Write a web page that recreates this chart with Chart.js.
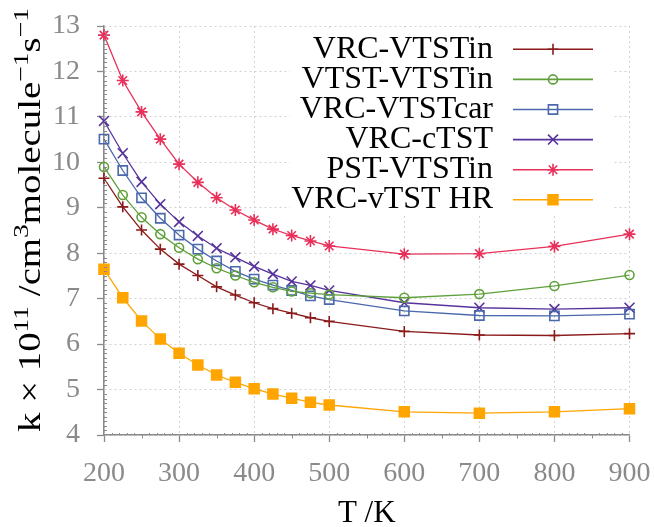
<!DOCTYPE html>
<html lang="en">
<head>
  <meta charset="UTF-8">
  <title>Rate constants vs temperature</title>
  <script src="https://cdn.jsdelivr.net/npm/chart.js"></script>
  <style>
    html, body { margin: 0; padding: 0; background: #fff; }
    canvas { display: block; }
  </style>
</head>
<body>
  <canvas id="rateChart" width="654" height="527"></canvas>

  <script>
    // Temperatures (K) and rate constants (k x 10^11, cm3 molecule-1 s-1)
    const temperatures = [200, 225, 250, 275, 300, 325, 350, 375, 400, 425, 450, 475, 500, 600, 700, 800, 900];
    const vrcVtstin  = [9.65, 9.02, 8.51, 8.09, 7.76, 7.51, 7.26, 7.08, 6.91, 6.78, 6.68, 6.58, 6.50, 6.28, 6.20, 6.19, 6.23];
    const vtstVtstin = [9.90, 9.28, 8.79, 8.42, 8.12, 7.87, 7.67, 7.51, 7.36, 7.25, 7.16, 7.12, 7.09, 7.02, 7.10, 7.28, 7.52];
    const vrcVtstcar = [10.51, 9.82, 9.22, 8.77, 8.40, 8.09, 7.83, 7.60, 7.43, 7.30, 7.18, 7.06, 6.98, 6.73, 6.63, 6.62, 6.66];
    const vrcCtst    = [10.91, 10.20, 9.57, 9.08, 8.69, 8.38, 8.11, 7.91, 7.71, 7.54, 7.38, 7.29, 7.18, 6.91, 6.80, 6.77, 6.80];
    const pstVtstin  = [12.80, 11.80, 11.11, 10.51, 9.96, 9.56, 9.22, 8.95, 8.73, 8.53, 8.39, 8.27, 8.16, 7.98, 7.99, 8.15, 8.42];
    const vrcVtstHr  = [7.65, 7.02, 6.51, 6.11, 5.80, 5.54, 5.32, 5.16, 5.02, 4.90, 4.81, 4.72, 4.66, 4.51, 4.48, 4.51, 4.58];

    const seriesNames = ['VRC-VTSTin', 'VTST-VTSTin', 'VRC-VTSTcar', 'VRC-cTST', 'PST-VTSTin', 'VRC-vTST HR'];
    const xTickLabels = [200, 300, 400, 500, 600, 700, 800, 900];
    const yTickLabels = [4, 5, 6, 7, 8, 9, 10, 11, 12, 13];

    const serif = "'Liberation Serif', 'DejaVu Serif', serif";
    const axisGray = '#8a8a8a';

    const styles = [
      { color: '#8b1a1a', pointStyle: 'cross',    radius: 5.5, fill: 'rgba(0,0,0,0)' },
      { color: '#5fa03a', pointStyle: 'circle',   radius: 4.5, fill: 'rgba(0,0,0,0)' },
      { color: '#4a68ab', pointStyle: 'rect',     radius: 6.5, fill: 'rgba(0,0,0,0)' },
      { color: '#55339b', pointStyle: 'crossRot', radius: 7,   fill: 'rgba(0,0,0,0)' },
      { color: '#e8305a', pointStyle: 'star',     radius: 6,   fill: 'rgba(0,0,0,0)' },
      { color: '#ffa500', pointStyle: 'rect',     radius: 7,   fill: '#ffa500' }
    ];
    const seriesValues = [vrcVtstin, vtstVtstin, vrcVtstcar, vrcCtst, pstVtstin, vrcVtstHr];

    const datasets = seriesValues.map((vals, i) => ({
      label: seriesNames[i],
      data: vals.map((v, j) => ({ x: temperatures[j], y: v })),
      borderColor: styles[i].color,
      backgroundColor: styles[i].fill,
      pointBorderColor: styles[i].color,
      pointBackgroundColor: styles[i].fill,
      pointStyle: styles[i].pointStyle,
      pointRadius: styles[i].radius,
      pointBorderWidth: 1.6,
      borderWidth: 1.3,
      tension: 0,
      clip: false
    }));

    // minor ticks on both axes
    const minorTicks = {
      id: 'minorTicks',
      afterDraw(chart) {
        const { ctx, scales: { x, y } } = chart;
        const left = chart.chartArea.left, bottom = chart.chartArea.bottom;
        ctx.save();
        ctx.strokeStyle = axisGray;
        ctx.lineWidth = 1;
        ctx.beginPath();
        for (let i = 40; i <= 130; i++) {
          if (i % 10 === 0) continue;
          const py = Math.round(y.getPixelForValue(i / 10)) + 0.5;
          ctx.moveTo(left, py); ctx.lineTo(left + 3, py);
        }
        for (let t = 200; t <= 900; t += 10) {
          if (t % 100 === 0) continue;
          const px = Math.round(x.getPixelForValue(t)) + 0.5;
          if (t % 50 === 0) { ctx.moveTo(px, bottom); ctx.lineTo(px, bottom + 3.5); }
          else { ctx.moveTo(px, bottom); ctx.lineTo(px, bottom - 2); }
        }
        ctx.stroke();
        ctx.restore();
      }
    };

    // y axis title with real superscripts, stretched to the reference length
    const yTitle = {
      id: 'yTitle',
      afterDraw(chart) {
        const ctx = chart.ctx;
        const parts = [
          ['k \u00d7 10', 0], ['11', 1], [' /cm', 0], ['3', 1],
          ['molecule', 0], ['\u22121', 1], ['s', 0], ['\u22121', 1]
        ];
        const mainFont = '31px ' + serif, supFont = '22px ' + serif;
        ctx.save();
        let total = 0;
        parts.forEach(p => { ctx.font = p[1] ? supFont : mainFont; total += ctx.measureText(p[0]).width; });
        const target = 424;
        ctx.translate(40, 220);
        ctx.rotate(-Math.PI / 2);
        ctx.scale(target / total, 1);
        ctx.fillStyle = '#000';
        ctx.textBaseline = 'alphabetic';
        ctx.textAlign = 'left';
        let cx = -total / 2;
        parts.forEach(p => {
          ctx.font = p[1] ? supFont : mainFont;
          ctx.fillText(p[0], cx, p[1] ? -12 : 0);
          cx += ctx.measureText(p[0]).width;
        });
        ctx.restore();
      }
    };

    // legend: text right aligned, line sample with marker on the right
    const sideLegend = {
      id: 'sideLegend',
      afterDraw(chart) {
        const ctx = chart.ctx;
        const drawPoint = Chart.helpers && Chart.helpers.drawPoint;
        ctx.save();
        ctx.fillStyle = '#fff';
        ctx.fillRect(290, 28, 322, 186);
        chart.data.datasets.forEach((ds, i) => {
          const ly = 49.3 + i * 30.1;
          ctx.font = '32px ' + serif;
          ctx.fillStyle = '#000';
          ctx.textAlign = 'right';
          ctx.textBaseline = 'alphabetic';
          ctx.fillText(ds.label, 493, ly + 8.5);
          ctx.strokeStyle = ds.borderColor;
          ctx.lineWidth = 1.6;
          ctx.beginPath();
          ctx.moveTo(513, ly); ctx.lineTo(593, ly);
          ctx.stroke();
          if (drawPoint) {
            ctx.fillStyle = ds.pointBackgroundColor;
            ctx.strokeStyle = ds.pointBorderColor;
            ctx.lineWidth = ds.pointBorderWidth;
            drawPoint(ctx, { pointStyle: ds.pointStyle, radius: ds.pointRadius, rotation: 0, borderWidth: ds.pointBorderWidth }, 553, ly);
          }
        });
        ctx.restore();
      }
    };

    const ctx = document.getElementById('rateChart').getContext('2d');
    const rateChart = new Chart(ctx, {
      type: 'line',
      data: { datasets: datasets },
      plugins: [minorTicks, yTitle, sideLegend],
      options: {
        responsive: false,
        animation: false,
        devicePixelRatio: 1,
        layout: { padding: { left: 0, top: 26, right: 24.5, bottom: 0 } },
        plugins: {
          legend: { display: false },
          tooltip: { enabled: false }
        },
        scales: {
          x: {
            type: 'linear',
            min: 200,
            max: 900,
            afterBuildTicks: scale => { scale.ticks = xTickLabels.map(v => ({ value: v })); },
            afterFit: scale => { scale.height = 92; scale.paddingLeft = 0; scale.paddingRight = 0; },
            ticks: { color: axisGray, font: { family: serif, size: 28 }, padding: 15, maxRotation: 0 },
            grid: { color: '#d2d2d2', lineWidth: 1, tickLength: 7, tickColor: axisGray, tickWidth: 1.3 },
            border: { display: true, color: axisGray, width: 1.5, dash: [2, 3] },
            title: { display: true, text: 'T /K', color: '#000', font: { family: serif, size: 31 }, padding: { top: 0, bottom: -5 } }
          },
          y: {
            min: 4,
            max: 13,
            afterBuildTicks: scale => { scale.ticks = yTickLabels.map(v => ({ value: v })); },
            afterFit: scale => { scale.width = 104; scale.paddingTop = 0; scale.paddingBottom = 0; },
            ticks: { color: axisGray, font: { family: serif, size: 28 }, padding: 17 },
            grid: { color: '#d2d2d2', lineWidth: 1, tickLength: 7, tickColor: axisGray, tickWidth: 1.3 },
            border: { display: true, color: axisGray, width: 1.5, dash: [2, 3] }
          }
        }
      }
    });
  </script>
</body>
</html>
